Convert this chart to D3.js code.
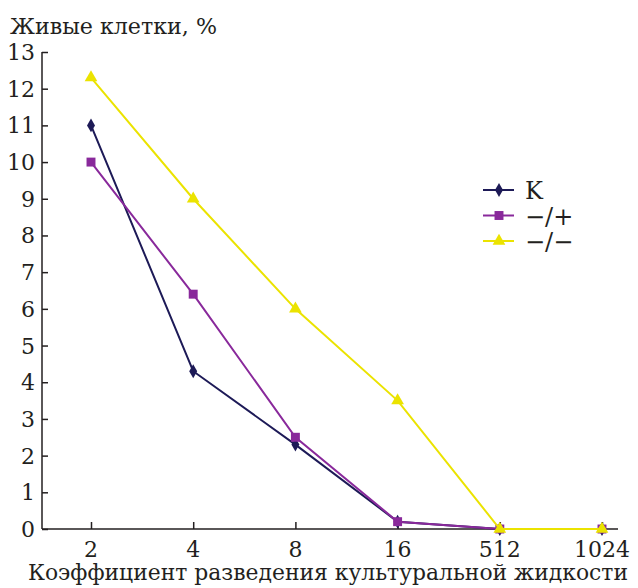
<!DOCTYPE html>
<html>
<head>
<meta charset="utf-8">
<script src="https://cdn.jsdelivr.net/npm/d3@7"></script>
<style>
    body { margin: 0; background: #fff; }
</style>
</head>
<body>
<div id="chart"></div>
<script>
const categories = ["2", "4", "8", "16", "512", "1024"];
const yTicks = [0, 1, 2, 3, 4, 5, 6, 7, 8, 9, 10, 11, 12, 13];
const seriesNames = ["K", "\u2212/+", "\u2212/\u2212"];
const valuesK = [11, 4.3, 2.3, 0.2, 0, 0];
const valuesMinusPlus = [10, 6.4, 2.5, 0.2, 0, 0];
const valuesMinusMinus = [12.3, 9, 6, 3.5, 0, 0];

const series = [
    {name: seriesNames[0], values: valuesK, color: "#1d1a57", symbol: d3.symbolDiamond, size: 55},
    {name: seriesNames[1], values: valuesMinusPlus, color: "#89299b", symbol: d3.symbolSquare, size: 80},
    {name: seriesNames[2], values: valuesMinusMinus, color: "#ebe300", symbol: d3.symbolTriangle, size: 70}
];

const width = 638, height = 588;
const axisX = 42, axisY = 529, topY = 52, rightX = 618;
const serifFont = "'DejaVu Serif', 'Liberation Serif', 'Times New Roman', serif";

const svg = d3.select("#chart").append("svg")
    .attr("width", width)
    .attr("height", height)
    .style("font-family", serifFont);

const x = d3.scalePoint()
    .domain(categories)
    .range([91, 602]);

const y = d3.scaleLinear()
    .domain([0, 13])
    .range([axisY, topY]);

// y axis, ticks pointing inward
const yAxis = svg.append("g")
    .attr("transform", `translate(${axisX},0)`)
    .call(d3.axisRight(y).tickValues(yTicks).tickSize(6).tickFormat(""));
yAxis.select(".domain").remove();
yAxis.selectAll("line").attr("stroke", "#231f20").attr("stroke-width", 1.5);

svg.append("line")
    .attr("x1", axisX).attr("x2", axisX)
    .attr("y1", y(13)).attr("y2", axisY)
    .attr("stroke", "#231f20").attr("stroke-width", 1.5);

svg.append("g")
    .selectAll("text")
    .data(yTicks)
    .join("text")
    .attr("x", axisX - 7)
    .attr("y", d => y(d) + 8)
    .attr("text-anchor", "end")
    .attr("fill", "#231f20")
    .style("font-size", "22px")
    .style("font-family", serifFont)
    .text(d => d);

// x axis, ticks pointing up
const xAxis = svg.append("g")
    .attr("transform", `translate(0,${axisY})`)
    .call(d3.axisTop(x).tickSize(7).tickFormat(""));
xAxis.select(".domain").remove();
xAxis.selectAll("line").attr("stroke", "#231f20").attr("stroke-width", 1.5);

svg.append("line")
    .attr("x1", axisX).attr("x2", rightX)
    .attr("y1", axisY).attr("y2", axisY)
    .attr("stroke", "#231f20").attr("stroke-width", 1.5);

svg.append("g")
    .selectAll("text")
    .data(categories)
    .join("text")
    .attr("x", d => x(d))
    .attr("y", axisY + 28)
    .attr("text-anchor", "middle")
    .attr("fill", "#231f20")
    .style("font-size", "22px")
    .style("font-family", serifFont)
    .text(d => d);

// titles
svg.append("text")
    .attr("x", 10)
    .attr("y", 34)
    .attr("fill", "#231f20")
    .attr("textLength", 207)
    .attr("lengthAdjust", "spacingAndGlyphs")
    .style("font-size", "23px")
    .style("font-family", serifFont)
    .text("Живые клетки, %");

svg.append("text")
    .attr("x", 628)
    .attr("y", 580)
    .attr("text-anchor", "end")
    .attr("fill", "#231f20")
    .attr("textLength", 600)
    .attr("lengthAdjust", "spacingAndGlyphs")
    .style("font-size", "22px")
    .style("font-family", serifFont)
    .text("Коэффициент разведения культуральной жидкости");

// lines and markers
const line = d3.line()
    .x((d, i) => x(categories[i]))
    .y(d => y(d));

series.forEach(function(s) {
    svg.append("path")
        .datum(s.values)
        .attr("fill", "none")
        .attr("stroke", s.color)
        .attr("stroke-width", 2)
        .attr("d", line);

    svg.append("g")
        .selectAll("path")
        .data(s.values)
        .join("path")
        .attr("transform", (d, i) => `translate(${x(categories[i])},${y(d)})`)
        .attr("d", d3.symbol().type(s.symbol).size(s.size))
        .attr("fill", s.color);
});

// legend
const legend = svg.append("g")
    .selectAll("g")
    .data(series)
    .join("g")
    .attr("transform", (d, i) => `translate(483,${190 + i * 25.5})`);

legend.append("line")
    .attr("x1", 0).attr("x2", 31)
    .attr("stroke", d => d.color)
    .attr("stroke-width", 2);

legend.append("path")
    .attr("transform", "translate(16,0)")
    .attr("d", d => d3.symbol().type(d.symbol).size(d.size)())
    .attr("fill", d => d.color);

legend.append("text")
    .attr("x", 42)
    .attr("y", 9)
    .attr("fill", "#231f20")
    .style("font-size", "24px")
    .style("font-family", serifFont)
    .text(d => d.name);
</script>
</body>
</html>
